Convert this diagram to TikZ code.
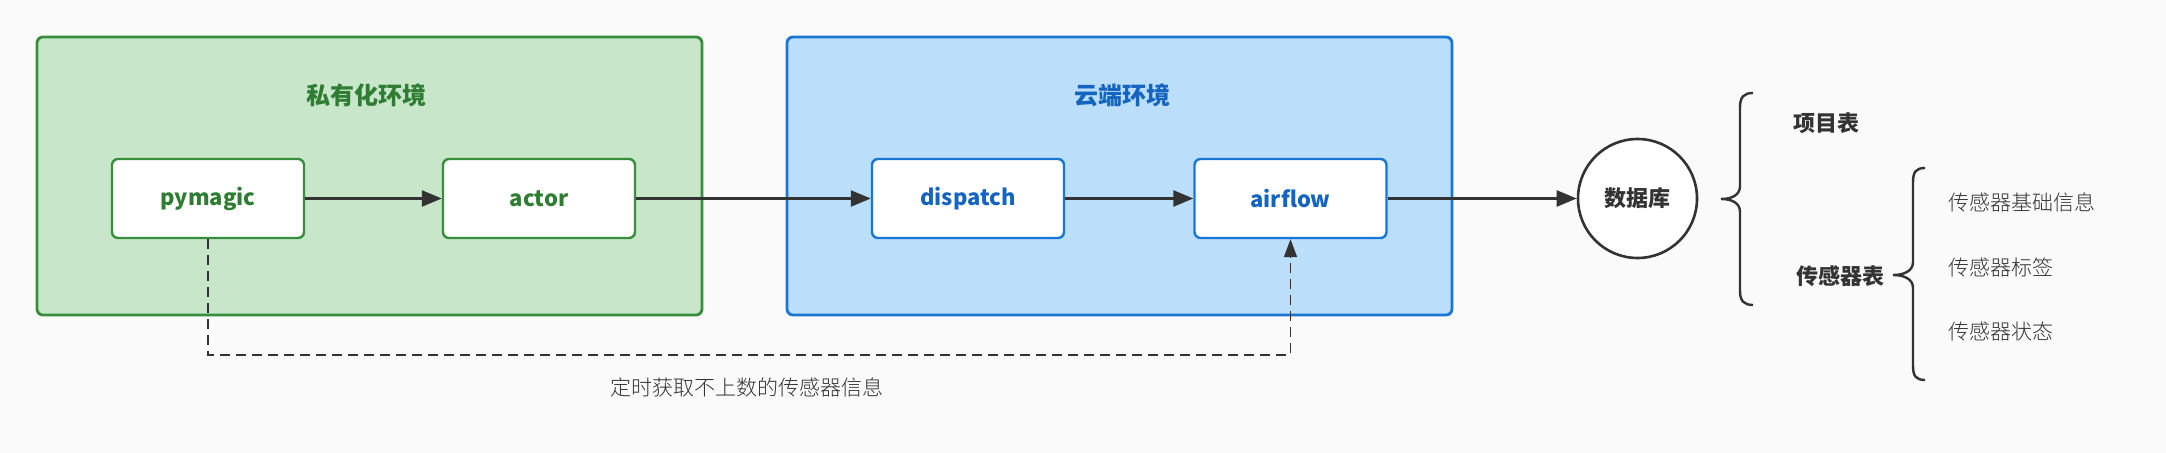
\documentclass[tikz,border=0pt]{standalone}
\usepackage{fontspec}
\setmainfont{Noto Sans CJK SC}
\newfontfamily\lightcjk{Noto Sans CJK SC Light}
\usetikzlibrary{arrows.meta}
\definecolor{bgc}{HTML}{FAFAFA}
\definecolor{gfill}{HTML}{C8E6C9}
\definecolor{gline}{HTML}{388E3C}
\definecolor{gtext}{HTML}{2E7D32}
\definecolor{bfill}{HTML}{BBDEFB}
\definecolor{bline}{HTML}{1976D2}
\definecolor{btext}{HTML}{1565C0}
\definecolor{ink}{HTML}{333333}
\begin{document}
\begin{tikzpicture}[x=0.5pt,y=-0.5pt,
  envbox/.style={draw, line width=1.4pt, rounded corners=3pt, minimum width=332.5pt, minimum height=139pt, inner sep=0pt},
  procbox/.style={draw, fill=white, line width=1.2pt, rounded corners=3pt, minimum width=96pt, minimum height=39.5pt, inner sep=0pt, font=\fontsize{11}{13}\selectfont\bfseries},
  envtitle/.style={font=\fontsize{12}{14}\selectfont\bfseries},
  flow/.style={draw=ink, line width=1.2pt, -{Triangle[length=10pt,width=8pt]}},
  dashflow/.style={draw=ink, line width=0.8pt, dash pattern=on 5pt off 3pt, -{Triangle[length=9pt,width=6.5pt]}},
  brace/.style={draw=ink, line width=1.2pt},
  tablbl/.style={text=ink, font=\fontsize{11}{13}\selectfont\bfseries},
  itemlbl/.style={text=ink, font=\fontsize{10.5}{12}\selectfont\lightcjk, anchor=west, inner sep=0pt},
]
\fill[bgc] (0,0) rectangle (2166,453);
\useasboundingbox (0,0) rectangle (2166,453);

% environments
\node[envbox, draw=gline, fill=gfill] (priv) at (369.5,176) {};
\node[envbox, draw=bline, fill=bfill] (cloud) at (1119.5,176) {};
\node[envtitle, text=gtext] (privt) at (366,95) {私有化环境};
\node[envtitle, text=btext] (cloudt) at (1122,95) {云端环境};

% process boxes
\node[procbox, draw=gline, text=gtext] (pym) at (208,198.5) {pymagic};
\node[procbox, draw=gline, text=gtext] (act) at (539,198.5) {actor};
\node[procbox, draw=bline, text=btext] (disp) at (968,198.5) {dispatch};
\node[procbox, draw=bline, text=btext] (air) at (1290.5,198.5) {airflow};

% database
\node[circle, draw=ink, fill=white, line width=1.3pt, minimum size=59.5pt, inner sep=0pt, font=\fontsize{11}{13}\selectfont\bfseries, text=ink] (db) at (1637.5,198.5) {数据库};

% arrows
\draw[flow] (pym) -- (act);
\draw[flow] (act) -- (disp);
\draw[flow] (disp) -- (air);
\draw[flow] (air) -- (db);

% dashed feedback
\coordinate (d1) at (208,355);
\coordinate (d2) at (1290.5,355);
\draw[dashflow] (pym.south) -- (d1) -- (d2) -- (air.south);
\node[text=ink, font=\fontsize{10.5}{12}\selectfont\lightcjk] (dlbl) at (747,387) {定时获取不上数的传感器信息};

% braces
\draw[brace] (1753,93) .. controls (1744,93) and (1740,97) .. (1740,107) -- (1740,186)
  .. controls (1740,195) and (1732,199) .. (1721,199)
  .. controls (1732,199) and (1740,203) .. (1740,212) -- (1740,291)
  .. controls (1740,301) and (1744,305) .. (1753,305);
\draw[brace] (1925,168) .. controls (1916,168) and (1913,172) .. (1913,182) -- (1913,262)
  .. controls (1913,271) and (1904,275) .. (1893,275)
  .. controls (1904,275) and (1913,279) .. (1913,288) -- (1913,366)
  .. controls (1913,376) and (1916,380) .. (1925,380);

% tables
\node[tablbl] (proj) at (1826,123) {项目表};
\node[tablbl] (sens) at (1840,276) {传感器表};
\node[itemlbl] (i1) at (1948,202) {传感器基础信息};
\node[itemlbl] (i2) at (1948,267) {传感器标签};
\node[itemlbl] (i3) at (1948,332) {传感器状态};
\end{tikzpicture}
\end{document}
